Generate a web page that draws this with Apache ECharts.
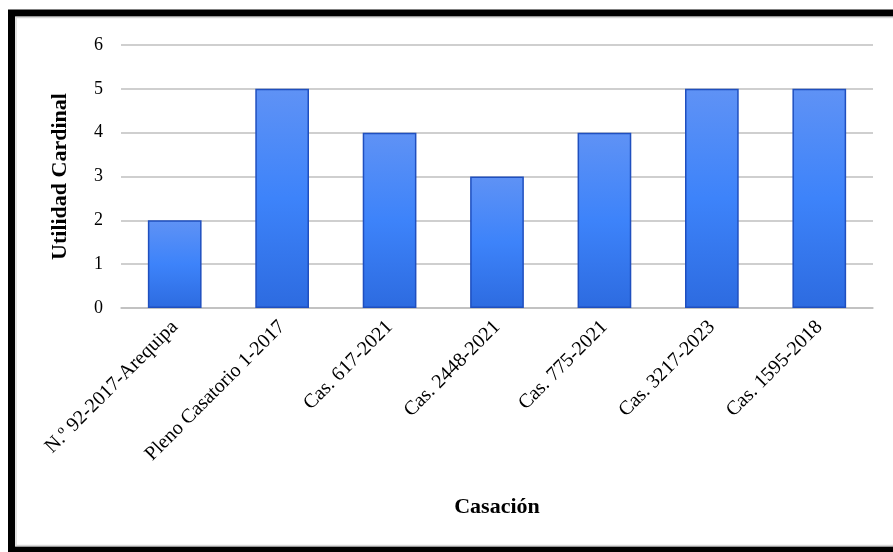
<!DOCTYPE html>
<html>
<head>
<meta charset="utf-8">
<script src="https://cdn.jsdelivr.net/npm/echarts@6/dist/echarts.min.js"></script>
<style>
html,body{margin:0;padding:0;background:#fff;}
#chart{width:893px;height:552px;}
</style>
</head>
<body>
<div id="chart"></div>
<script>
const categories = ["N.º 92-2017-Arequipa","Pleno Casatorio 1-2017","Cas. 617-2021","Cas. 2448-2021","Cas. 775-2021","Cas. 3217-2023","Cas. 1595-2018"];
const values = [2,5,4,3,4,5,5];
const yTicks = [0,1,2,3,4,5,6];

const chart = echarts.init(document.getElementById('chart'));
const font = '"Liberation Serif","Times New Roman",serif';
chart.setOption({
  animation:false,
  backgroundColor:'#fff',
  graphic:[
    {type:'rect', shape:{x:11.5,y:13,width:900,height:537}, style:{fill:null,stroke:'#000',lineWidth:7}, z:100},
    {type:'rect', shape:{x:16,y:17.5,width:900,height:528}, style:{fill:null,stroke:'#d9d9d9',lineWidth:1.5}, z:100}
  ],
  grid:{left:121,right:20,top:45,bottom:244},
  xAxis:{
    type:'category',
    data:categories,
    name:'Casación',
    nameLocation:'middle',
    nameGap:188,
    nameTextStyle:{fontFamily:font,fontSize:22,fontWeight:'bold',color:'#000'},
    axisLine:{show:true,lineStyle:{color:'#bfbfbf',width:1.5}},
    axisTick:{show:false},
    axisLabel:{rotate:45,interval:0,fontFamily:font,fontSize:20,color:'#000',margin:16}
  },
  yAxis:{
    type:'value',
    min:yTicks[0],
    max:yTicks[yTicks.length-1],
    interval:1,
    name:'Utilidad Cardinal',
    nameLocation:'middle',
    nameGap:50,
    nameRotate:90,
    nameTextStyle:{fontFamily:font,fontSize:22,fontWeight:'bold',color:'#000'},
    axisLine:{show:false},
    axisTick:{show:false},
    axisLabel:{fontFamily:font,fontSize:18,color:'#000',margin:18},
    splitLine:{lineStyle:{color:'#bfbfbf',width:1.5}}
  },
  series:[{
    type:'bar',
    data:values,
    barWidth:'50%',
    itemStyle:{
      color:new echarts.graphic.LinearGradient(0,0,0,1,[
        {offset:0,color:'#5f92f5'},
        {offset:0.5,color:'#3d83fa'},
        {offset:1,color:'#2d6be0'}
      ]),
      borderColor:'#1f4fbf',
      borderWidth:1.5
    }
  }]
});
</script>
</body>
</html>
